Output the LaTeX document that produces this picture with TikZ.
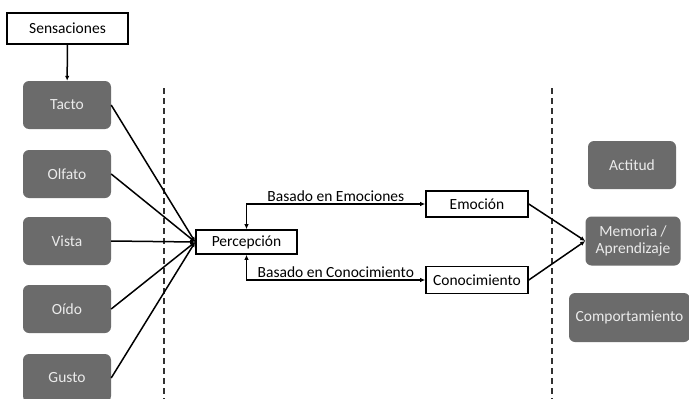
\documentclass[tikz,border=0pt]{standalone}
\usepackage{fontspec}
\setmainfont{Carlito}
\usetikzlibrary{arrows.meta}
\definecolor{boxgray}{RGB}{107,107,107}
\definecolor{boxtext}{RGB}{235,235,235}
\definecolor{dashgray}{RGB}{50,50,50}
\begin{document}
\begin{tikzpicture}[x=1pt,y=-1pt,
  graybox/.style={rectangle,rounded corners=6pt,fill=boxgray,text=boxtext,inner sep=0pt,
    minimum width=88pt,minimum height=48pt,font=\fontsize{15.5}{17}\selectfont,align=center},
  wbox/.style={rectangle,draw=black,line width=1.6pt,fill=white,inner sep=0pt,
    font=\fontsize{15.5}{17}\selectfont},
  conn/.style={line width=1.5pt,-{Latex[length=5pt,width=4.5pt]}},
  biconn/.style={line width=1.5pt,{Latex[length=5pt,width=4.5pt]}-{Latex[length=5pt,width=4.5pt]}},
  sep/.style={line width=1.6pt,dashgray,dash pattern=on 6pt off 4pt},
  lbl/.style={font=\fontsize{15.5}{17}\selectfont,inner sep=1pt}]
\useasboundingbox (0,0) rectangle (689,399);
\fill[white] (0,0) rectangle (689,399);
% separators
\draw[sep] (164,88) -- (164,399);
\draw[sep] (552,88) -- (552,399);
% nodes
\node[wbox,minimum width=121pt,minimum height=31pt] (sens) at (67.5,28.5) {Sensaciones};
\node[graybox] (tacto) at (67,105) {Tacto};
\node[graybox] (olfato) at (67,174) {Olfato};
\node[graybox] (vista) at (67,241) {Vista};
\node[graybox] (oido) at (67,309) {Oído};
\node[graybox] (gusto) at (67,378) {Gusto};
\node[wbox,minimum width=101pt,minimum height=24pt] (perc) at (246.5,242) {Percepción};
\node[wbox,minimum width=102pt,minimum height=26pt] (emo) at (477,204) {Emoción};
\node[wbox,minimum width=102pt,minimum height=27pt] (cono) at (477,280) {Conocimiento};
\node[graybox] (act) at (632,165) {Actitud};
\node[graybox,minimum width=95pt,minimum height=49pt] (mem) at (633,241) {Memoria /\\Aprendizaje};
\node[graybox,minimum width=121pt,minimum height=49pt] (comp) at (629.5,317.5) {Comportamiento};
% connectors
\draw[conn] (sens) -- (tacto);
\foreach \s in {tacto,olfato,vista,oido,gusto}
  \draw[conn] (\s.east) -- (perc.west);
\draw[biconn] (perc.north) |- (emo.west)
  node[lbl,pos=0.75,above=1pt] {Basado en Emociones};
\draw[biconn] (perc.south) |- (cono.west)
  node[lbl,pos=0.75,above=1pt] {Basado en Conocimiento};
\draw[conn] (emo.east) -- (mem.west);
\draw[conn] (cono.east) -- (mem.west);
\end{tikzpicture}
\end{document}
